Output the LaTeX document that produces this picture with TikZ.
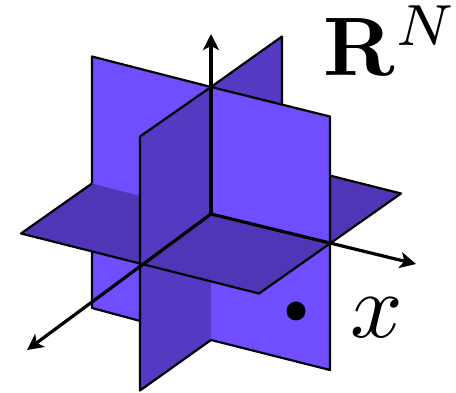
\documentclass[tikz,border=0pt]{standalone}
\usepackage{amsmath}
\usepackage{amssymb}
\usetikzlibrary{arrows.meta}
\definecolor{walllight}{HTML}{704DFF}
\definecolor{walldark}{HTML}{5539C2}
\definecolor{planedark}{HTML}{5036B6}
\begin{document}
\begin{tikzpicture}[x=1pt,y=-1pt,
  lightpart/.style={fill=walllight},
  darkpart/.style={fill=walldark},
  planepart/.style={fill=planedark},
  edge/.style={draw=black,line width=2.2pt,line join=round},
  axis/.style={draw=black,line width=3.2pt,-{Stealth[length=16pt,width=16pt,inset=4pt]}},
  bigtext/.style={inner sep=0pt,text=black}]
\useasboundingbox (0,0) rectangle (456,393);
\coordinate (o) at (211,214);
\coordinate (atl) at (92,56.5);
\coordinate (atm) at (211,87);
\coordinate (atr) at (330,116.5);
\coordinate (aml) at (92,183.5);
\coordinate (amr) at (330,243.5);
\coordinate (abl) at (92,308);
\coordinate (abm) at (211,340);
\coordinate (abr) at (330,370);
\coordinate (btf) at (140,136.5);
\coordinate (btb) at (282,36.5);
\coordinate (bmf) at (140,264);
\coordinate (bmb) at (282,163.5);
\coordinate (bbf) at (140,390.5);
\coordinate (bbb) at (282,290);
\coordinate (pl) at (21,233.5);
\coordinate (pf) at (259,293.5);
\coordinate (pr) at (401,193.5);
\coordinate (pb) at (163,133.5);
\coordinate (ztip) at (211,34);
\coordinate (xtip) at (416,264);
\coordinate (ytip) at (27,350);
\fill[darkpart] (o) -- (bmb) -- (bbb) -- (abm) -- cycle;
\fill[lightpart] (o) -- (amr) -- (abr) -- (abm) -- cycle;
\draw[edge] (amr) -- (abr) -- (abm);
\fill[lightpart] (o) -- (aml) -- (abl) -- (abm) -- cycle;
\draw[edge] (aml) -- (abl) -- (abm);
\fill[darkpart] (o) -- (bmf) -- (bbf) -- (abm) -- cycle;
\draw[edge] (bmf) -- (bbf) -- (abm);
\fill[planepart] (pl) -- (pf) -- (pr) -- (pb) -- cycle;
\draw[edge] (pl) -- (pf) -- (pr) -- (pb) -- cycle;
\fill[darkpart] (o) -- (atm) -- (btb) -- (bmb) -- cycle;
\draw[edge] (atm) -- (btb) -- (bmb);
\fill[lightpart] (o) -- (aml) -- (atl) -- (atm) -- cycle;
\draw[edge] (aml) -- (atl) -- (atm);
\fill[lightpart] (o) -- (amr) -- (atr) -- (atm) -- cycle;
\draw[edge] (amr) -- (atr) -- (atm);
\fill[darkpart] (o) -- (bmf) -- (btf) -- (atm) -- cycle;
\draw[edge] (bmf) -- (btf) -- (atm);
\draw[axis] (o) -- (ztip);
\draw[axis] (o) -- (xtip);
\draw[axis] (o) -- (ytip);
\node[circle,fill=black,inner sep=0pt,minimum size=19pt] (dot) at (296,311) {};
\node[bigtext,scale=8.3] (space) at (391,41) {$\mathbf{R}^N$};
\node[bigtext,scale=9.2] (point) at (376.5,318) {$x$};
\end{tikzpicture}
\end{document}
